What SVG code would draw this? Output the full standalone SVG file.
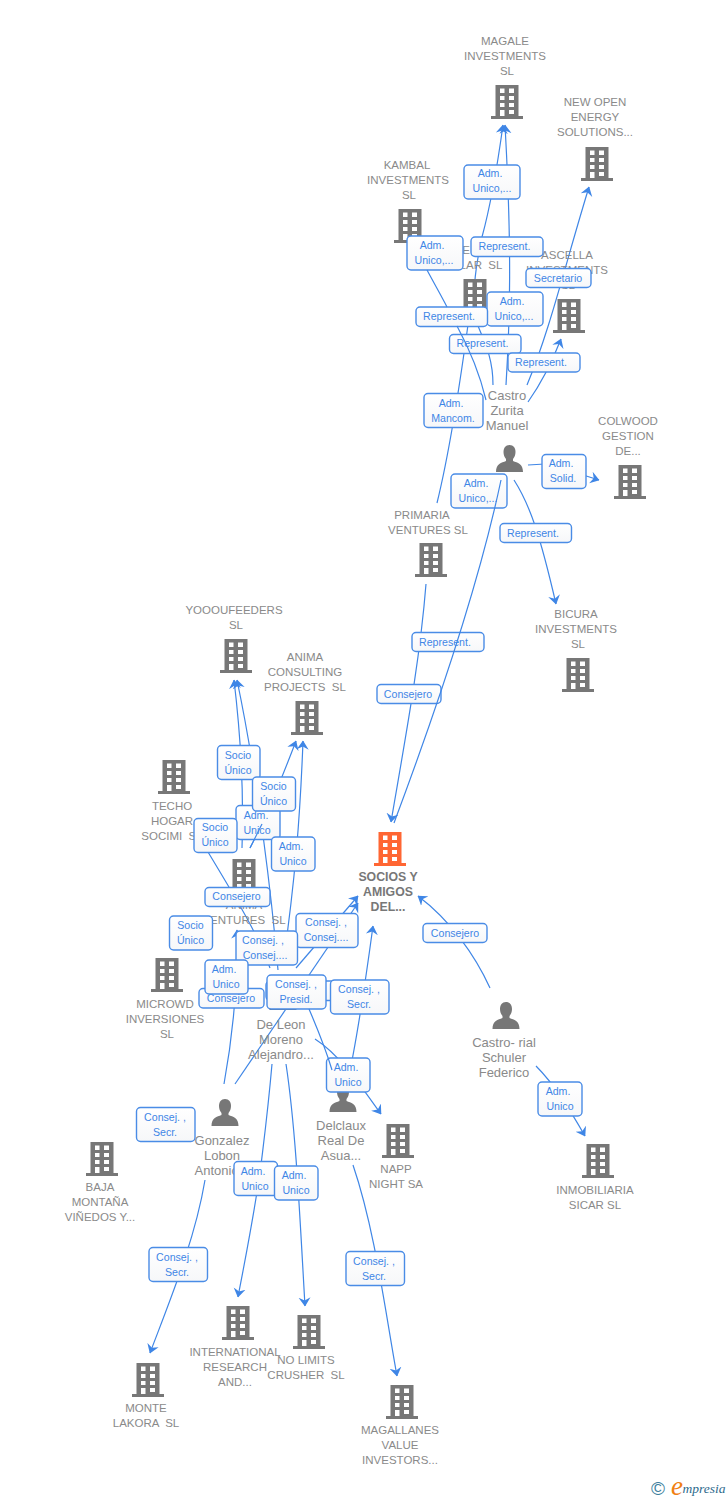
<svg xmlns="http://www.w3.org/2000/svg" width="728" height="1500" viewBox="0 0 728 1500">
<style>
text{font-family:"Liberation Sans",Arial,sans-serif;text-anchor:middle;white-space:pre}
.n{font-size:11.5px;fill:#8a8a8a}
.p{font-size:13px;fill:#8a8a8a}
.m{font-size:12.3px;fill:#777;font-weight:bold}
.l{font-size:10.6px;fill:#3f86e6}
.c{fill:none;stroke:#3f86e6;stroke-width:1.2}
.a{marker-end:url(#arr)}
.b{fill:url(#bg);stroke:#4a8ce6;stroke-width:1.4}
</style>
<defs>
<linearGradient id="bg" x1="0" y1="0" x2="0" y2="1"><stop offset="0" stop-color="#fff"/><stop offset="1" stop-color="#f6f7f9"/></linearGradient>
<marker id="arr" markerUnits="userSpaceOnUse" markerWidth="9" markerHeight="13" viewBox="0 0 9 13" refX="8.500" refY="6.500" orient="auto"><path d="M0,0.500L9,6.500L0,12.500L3,6.500Z" fill="#3f86e6"/></marker>
<symbol id="bd" overflow="visible"><path fill-rule="evenodd" d="M-11.5,0H11.5V31H16V34H-16V31H-11.5ZM-7,3.500V8H-2.500V3.500ZM2,3.500V8H7V3.500ZM-7,11V15H-2.500V11ZM2,11V15H7V11ZM-7,18V22H-2.500V18ZM2,18V22H7V18ZM-7,25V31H-2.500V25ZM2,25V29H7V25Z"/></symbol>
<symbol id="pr" overflow="visible"><path d="M0,0C4,0 6,3 6,7C6,10 5,12 3.500,14V16C8,18 13.500,18.500 13.500,27H-13.500C-13.500,18.500 -8,18 -3.500,16V14C-5,12 -6,10 -6,7C-6,3 -4,0 0,0Z"/></symbol>
</defs>
<g id="connectors">
<path class="c a" d="M493,385C493,360 486,345 478,326C470,300 476,265 482,237C488,215 494,190 503,125"/>
<path class="c a" d="M506,385C510,320 512,250 505,125"/>
<path class="c a" d="M527,385C550,330 565,265 589,187"/>
<path class="c a" d="M528,402C540,385 552,362 561,339"/>
<path class="c" d="M437,503C450,450 462,370 470,310"/>
<path class="c" d="M528,465L545,464"/>
<path class="c a" d="M583,475L599,480"/>
<path class="c a" d="M514,480C530,505 540,535 556,604"/>
<path class="c a" d="M426,584C420,660 405,740 391,822"/>
<path class="c a" d="M242,848C244,790 240,730 234,680"/>
<path class="c a" d="M278,970C272,900 258,780 237,680"/>
<path class="c a" d="M250,848C265,820 283,775 296,741"/>
<path class="c a" d="M283,965C295,880 300,820 303,741"/>
<path class="c" d="M270,968C258,935 240,905 208,852"/>
<path class="c a" d="M224,1084C232,1040 238,990 237,930"/>
<path class="c a" d="M296,968L358,896"/>
<path class="c a" d="M235,1084L358,903"/>
<path class="c a" d="M347,1085C357,1040 365,985 373,926"/>
<path class="c a" d="M315,1039C340,1055 360,1085 381,1114"/>
<path class="c" d="M272,1064C268,1110 264,1140 261,1165"/>
<path class="c a" d="M261,1165C255,1210 247,1250 238,1297"/>
<path class="c a" d="M286,1064C296,1130 300,1220 305,1306"/>
<path class="c a" d="M205,1180C195,1240 170,1300 150,1353"/>
<path class="c a" d="M353,1165C375,1230 385,1310 397,1376"/>
<path class="c a" d="M490,988C475,955 450,920 418,896"/>
<path class="c a" d="M536,1066C555,1085 570,1110 585,1136"/>
</g>
<g id="n1"><use href="#bd" x="507" y="85" fill="#777"/><text class="n"><tspan x="505" y="45">MAGALE</tspan><tspan x="505" y="60">INVESTMENTS</tspan><tspan x="507" y="75">SL</tspan></text></g>
<g id="n2"><use href="#bd" x="597" y="147" fill="#777"/><text class="n"><tspan x="595" y="106">NEW OPEN</tspan><tspan x="595" y="121">ENERGY</tspan><tspan x="595" y="136">SOLUTIONS...</tspan></text></g>
<g id="n3"><use href="#bd" x="410" y="209" fill="#777"/><text class="n"><tspan x="407" y="169">KAMBAL</tspan><tspan x="408" y="184">INVESTMENTS</tspan><tspan x="409" y="199">SL</tspan></text></g>
<g id="n4"><use href="#bd" x="475" y="279" fill="#777"/><text class="n"><tspan x="466" y="254">E</tspan><tspan x="481" y="269">LAR  SL</tspan></text></g>
<g id="n5"><use href="#bd" x="569" y="299" fill="#777"/><text class="n"><tspan x="567" y="259">ASCELLA</tspan><tspan x="567" y="274">INVESTMENTS</tspan><tspan x="568" y="289">SL</tspan></text></g>
<g id="n6"><use href="#bd" x="630" y="465" fill="#777"/><text class="n"><tspan x="628" y="425">COLWOOD</tspan><tspan x="628" y="440">GESTION</tspan><tspan x="628" y="455">DE...</tspan></text></g>
<g id="n7"><use href="#bd" x="431" y="543" fill="#777"/><text class="n"><tspan x="422" y="519">PRIMARIA</tspan><tspan x="428" y="534">VENTURES SL</tspan></text></g>
<g id="n8"><use href="#bd" x="578" y="658" fill="#777"/><text class="n"><tspan x="576" y="618">BICURA</tspan><tspan x="576" y="633">INVESTMENTS</tspan><tspan x="578" y="648">SL</tspan></text></g>
<g id="n9"><use href="#bd" x="236" y="639" fill="#777"/><text class="n"><tspan x="234" y="614">YOOOUFEEDERS</tspan><tspan x="236" y="629">SL</tspan></text></g>
<g id="n10"><use href="#bd" x="307" y="701" fill="#777"/><text class="n"><tspan x="305" y="661">ANIMA</tspan><tspan x="305" y="676">CONSULTING</tspan><tspan x="305" y="691">PROJECTS  SL</tspan></text></g>
<g id="n11"><use href="#bd" x="174" y="760" fill="#777"/><text class="n"><tspan x="172" y="810">TECHO</tspan><tspan x="172" y="825">HOGAR</tspan><tspan x="172" y="840">SOCIMI  SL</tspan></text></g>
<g id="n12"><use href="#bd" x="244" y="859" fill="#777"/><text class="n"><tspan x="244" y="909">ANIMA</tspan><tspan x="244" y="924">VENTURES  SL</tspan></text></g>
<g id="n13"><use href="#bd" x="167" y="958" fill="#777"/><text class="n"><tspan x="165" y="1008">MICROWD</tspan><tspan x="165" y="1023">INVERSIONES</tspan><tspan x="167" y="1038">SL</tspan></text></g>
<g id="n14"><use href="#bd" x="102" y="1142" fill="#777"/><text class="n"><tspan x="100" y="1191">BAJA</tspan><tspan x="100" y="1206">MONTAÑA</tspan><tspan x="100" y="1221">VIÑEDOS Y...</tspan></text></g>
<g id="n15"><use href="#bd" x="398" y="1124" fill="#777"/><text class="n"><tspan x="396" y="1173">NAPP</tspan><tspan x="396" y="1188">NIGHT SA</tspan></text></g>
<g id="n16"><use href="#bd" x="598" y="1144" fill="#777"/><text class="n"><tspan x="595" y="1194">INMOBILIARIA</tspan><tspan x="595" y="1209">SICAR SL</tspan></text></g>
<g id="n17"><use href="#bd" x="238" y="1306" fill="#777"/><text class="n"><tspan x="235" y="1356">INTERNATIONAL</tspan><tspan x="235" y="1371">RESEARCH</tspan><tspan x="235" y="1386">AND...</tspan></text></g>
<g id="n18"><use href="#bd" x="309" y="1315" fill="#777"/><text class="n"><tspan x="306" y="1364">NO LIMITS</tspan><tspan x="306" y="1379">CRUSHER  SL</tspan></text></g>
<g id="n19"><use href="#bd" x="148" y="1363" fill="#777"/><text class="n"><tspan x="146" y="1412">MONTE</tspan><tspan x="146" y="1427">LAKORA  SL</tspan></text></g>
<g id="n20"><use href="#bd" x="402" y="1385" fill="#777"/><text class="n"><tspan x="400" y="1434">MAGALLANES</tspan><tspan x="400" y="1449">VALUE</tspan><tspan x="400" y="1464">INVESTORS...</tspan></text></g>
<g id="n21"><use href="#bd" x="390" y="832" fill="#ff6633"/><text class="m"><tspan x="388" y="881">SOCIOS Y</tspan><tspan x="388" y="896">AMIGOS</tspan><tspan x="388" y="911">DEL...</tspan></text></g>
<g id="p1"><use href="#pr" x="509.500" y="445" fill="#777"/><text class="p"><tspan x="507" y="400">Castro</tspan><tspan x="507" y="415">Zurita</tspan><tspan x="507" y="430">Manuel</tspan></text></g>
<g id="p2"><use href="#pr" x="283" y="983" fill="#777"/><text class="p"><tspan x="281" y="1029">De Leon</tspan><tspan x="281" y="1044">Moreno</tspan><tspan x="281" y="1059">Alejandro...</tspan></text></g>
<g id="p3"><use href="#pr" x="225" y="1099" fill="#777"/><text class="p"><tspan x="222" y="1145">Gonzalez</tspan><tspan x="222" y="1160">Lobon</tspan><tspan x="222" y="1175">Antonio...</tspan></text></g>
<g id="p4"><use href="#pr" x="506" y="1002" fill="#777"/><text class="p"><tspan x="504" y="1047">Castro- rial</tspan><tspan x="504" y="1062">Schuler</tspan><tspan x="504" y="1077">Federico</tspan></text></g>
<g id="p5"><use href="#pr" x="343" y="1085" fill="#777"/><text class="p"><tspan x="341" y="1130">Delclaux</tspan><tspan x="341" y="1145">Real De</tspan><tspan x="341" y="1160">Asua...</tspan></text></g>
<g id="connector-labels">
<g><rect class="b" x="464" y="165" width="56" height="34" rx="4"/><text class="l"><tspan x="490" y="177">Adm.</tspan><tspan x="492" y="192">Unico,...</tspan></text></g>
<g><rect class="b" x="471" y="237" width="72" height="19.500" rx="4"/><text class="l" x="504.500" y="250">Represent.</text></g>
<g><rect class="b" x="407" y="236" width="56" height="34" rx="4"/><text class="l"><tspan x="432" y="249">Adm.</tspan><tspan x="434" y="264">Unico,...</tspan></text></g>
<g><rect class="b" x="526" y="268.500" width="65" height="19" rx="4"/><text class="l" x="558" y="281.500">Secretario</text></g>
<g><rect class="b" x="487" y="292" width="56" height="34" rx="4"/><text class="l"><tspan x="512" y="305">Adm.</tspan><tspan x="514" y="320">Unico,...</tspan></text></g>
<g><rect class="b" x="416" y="307" width="71.500" height="19.500" rx="4"/><text class="l" x="449" y="320">Represent.</text></g>
<g><rect class="b" x="449.500" y="334.500" width="71.500" height="19" rx="4"/><text class="l" x="482.500" y="347">Represent.</text></g>
<g><rect class="b" x="508" y="353" width="72" height="19" rx="4"/><text class="l" x="541" y="366">Represent.</text></g>
<g><rect class="b" x="424" y="393.500" width="59" height="34" rx="4"/><text class="l"><tspan x="451" y="407">Adm.</tspan><tspan x="453" y="422">Mancom.</tspan></text></g>
<g><rect class="b" x="542" y="454.500" width="44" height="34" rx="4"/><text class="l"><tspan x="561" y="467">Adm.</tspan><tspan x="563" y="482">Solid.</tspan></text></g>
<g><rect class="b" x="451" y="474" width="56" height="34" rx="4"/><text class="l"><tspan x="476" y="487">Adm.</tspan><tspan x="478" y="502">Unico,...</tspan></text></g>
<g><rect class="b" x="500" y="523.500" width="71.500" height="19" rx="4"/><text class="l" x="533" y="536.500">Represent.</text></g>
<g><rect class="b" x="412" y="632.500" width="72" height="19" rx="4"/><text class="l" x="445" y="646">Represent.</text></g>
<g><rect class="b" x="377" y="684.500" width="64" height="19" rx="4"/><text class="l" x="408" y="698">Consejero</text></g>
<g><rect class="b" x="217.500" y="745.500" width="42.500" height="34" rx="4"/><text class="l"><tspan x="238" y="759">Socio</tspan><tspan x="238" y="774">Único</tspan></text></g>
<g><rect class="b" x="236" y="805.500" width="44" height="34" rx="4"/><text class="l"><tspan x="256" y="819">Adm.</tspan><tspan x="257" y="834">Unico</tspan></text></g>
<g><rect class="b" x="252.500" y="777" width="43" height="34" rx="4"/><text class="l"><tspan x="273.500" y="790">Socio</tspan><tspan x="273.500" y="805">Único</tspan></text></g>
<g><rect class="b" x="194" y="818.500" width="43" height="34" rx="4"/><text class="l"><tspan x="215" y="831">Socio</tspan><tspan x="215" y="846">Único</tspan></text></g>
<g><rect class="b" x="271.500" y="837" width="43.500" height="34" rx="4"/><text class="l"><tspan x="291" y="850">Adm.</tspan><tspan x="293" y="865">Unico</tspan></text></g>
<g><rect class="b" x="205" y="887.500" width="65" height="19" rx="4"/><text class="l" x="236.500" y="900">Consejero</text></g>
<g><rect class="b" x="169.500" y="916" width="43" height="34" rx="4"/><text class="l"><tspan x="190.500" y="929">Socio</tspan><tspan x="190.500" y="944">Único</tspan></text></g>
<g><rect class="b" x="296" y="913.500" width="62" height="34" rx="4"/><text class="l"><tspan x="326" y="926">Consej. ,</tspan><tspan x="326" y="941">Consej....</tspan></text></g>
<g><rect class="b" x="236" y="931" width="61.500" height="34" rx="4"/><text class="l"><tspan x="263" y="944">Consej. ,</tspan><tspan x="265" y="959">Consej....</tspan></text></g>
<g><rect class="b" x="199" y="988.500" width="65" height="19.500" rx="4"/><text class="l" x="231" y="1002">Consejero</text></g>
<g><rect class="b" x="205" y="960" width="43" height="34" rx="4"/><text class="l"><tspan x="224" y="973">Adm.</tspan><tspan x="226" y="988">Unico</tspan></text></g>
<rect class="b" x="266" y="981" width="70" height="19.500" rx="4"/>
<g><rect class="b" x="267" y="975" width="59" height="34" rx="4"/><text class="l"><tspan x="296" y="988">Consej. ,</tspan><tspan x="296" y="1003">Presid.</tspan></text></g>
<g><rect class="b" x="330.500" y="980" width="58.500" height="34" rx="4"/><text class="l"><tspan x="359" y="993">Consej. ,</tspan><tspan x="359" y="1008">Secr.</tspan></text></g>
<g><rect class="b" x="326.500" y="1058" width="43.500" height="34" rx="4"/><text class="l"><tspan x="346" y="1071">Adm.</tspan><tspan x="348" y="1086">Unico</tspan></text></g>
<g><rect class="b" x="136.500" y="1107.500" width="58.500" height="34" rx="4"/><text class="l"><tspan x="165" y="1121">Consej. ,</tspan><tspan x="165" y="1136">Secr.</tspan></text></g>
<g><rect class="b" x="234" y="1161.500" width="43.500" height="34" rx="4"/><text class="l"><tspan x="253" y="1175">Adm.</tspan><tspan x="255" y="1190">Unico</tspan></text></g>
<g><rect class="b" x="274.500" y="1166" width="43.500" height="34" rx="4"/><text class="l"><tspan x="294" y="1179">Adm.</tspan><tspan x="296" y="1194">Unico</tspan></text></g>
<g><rect class="b" x="149" y="1247.500" width="58.500" height="34" rx="4"/><text class="l"><tspan x="177" y="1261">Consej. ,</tspan><tspan x="177" y="1276">Secr.</tspan></text></g>
<g><rect class="b" x="346" y="1251.500" width="58.500" height="34" rx="4"/><text class="l"><tspan x="374" y="1265">Consej. ,</tspan><tspan x="374" y="1280">Secr.</tspan></text></g>
<g><rect class="b" x="423" y="923.500" width="64" height="19" rx="4"/><text class="l" x="455" y="937">Consejero</text></g>
<g><rect class="b" x="538" y="1082" width="44" height="34" rx="4"/><text class="l"><tspan x="558" y="1095">Adm.</tspan><tspan x="560" y="1110">Unico</tspan></text></g>
</g>
<g id="connectors-over">
<path class="c" d="M457,326C470,350 480,375 486,400"/>
<path class="c" d="M427,270C435,285 442,297 447,307"/>
<path class="c" d="M501,480C480,580 440,700 394,823"/>
<path class="c" d="M250,848L262,824"/>
<path class="c" d="M332,1070C326,1050 318,1030 309,1009"/>
</g>
<g id="logo">
<text x="658" y="1495" style="font-size:19px;fill:#3d7f9e">©</text>
<text x="677" y="1495" style="font-family:'Liberation Serif',serif;font-style:italic;font-size:27px;fill:#f07f13">e</text>
<text x="704" y="1493" style="font-family:'Liberation Serif',serif;font-style:italic;font-size:13.500px;fill:#2c6a8c">mpresia</text>
</g>
</svg>
